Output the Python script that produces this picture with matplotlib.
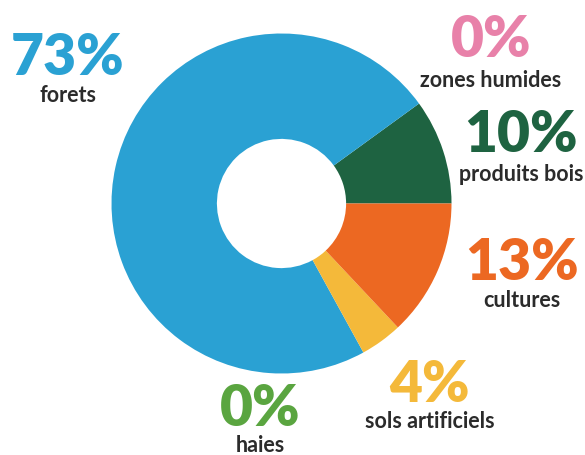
import matplotlib.pyplot as plt

# repartition (en %), sens antihoraire depuis 3h
categories = ['produits bois', 'zones humides', 'forets', 'haies', 'sols artificiels', 'cultures']
values = [10, 0, 73, 0, 4, 13]
colors = ['#1e6341', '#e881a9', '#2aa1d3', '#5aa540', '#f4b93a', '#ec6822']

# position des etiquettes (pixels, baseline du pourcentage / du nom)
label_pos = {
    'forets': (68, 75, 102),
    'zones humides': (491, 57, 87),
    'produits bois': (521, 152, 181),
    'cultures': (522, 280, 307),
    'sols artificiels': (430, 402, 428),
    'haies': (260, 426, 452),
}

W, H = 585, 456
fig = plt.figure(figsize=(W / 100, H / 100), dpi=100)
ax = fig.add_axes([0, 0, 1, 1])

cx, cy, r = 281.5, H - 204.5, 170
ax.pie(values, colors=colors, startangle=0, counterclock=True,
       center=(cx, cy), radius=r,
       wedgeprops=dict(width=r * 0.62, linewidth=0))

for cat, val, col in zip(categories, values, colors):
    x, yp, yl = label_pos[cat]
    ax.text(x, H - yp, f'{val}%', ha='center', va='baseline', color=col,
            fontsize=41, fontweight='heavy', family='Lato')
    ax.text(x, H - yl, cat, ha='center', va='baseline', color='#2b2b2b',
            fontsize=15.5, fontweight='bold', family='Lato')

ax.set_xlim(0, W)
ax.set_ylim(0, H)
ax.set_aspect('equal')
ax.axis('off')

plt.savefig('out.png', dpi=100)
